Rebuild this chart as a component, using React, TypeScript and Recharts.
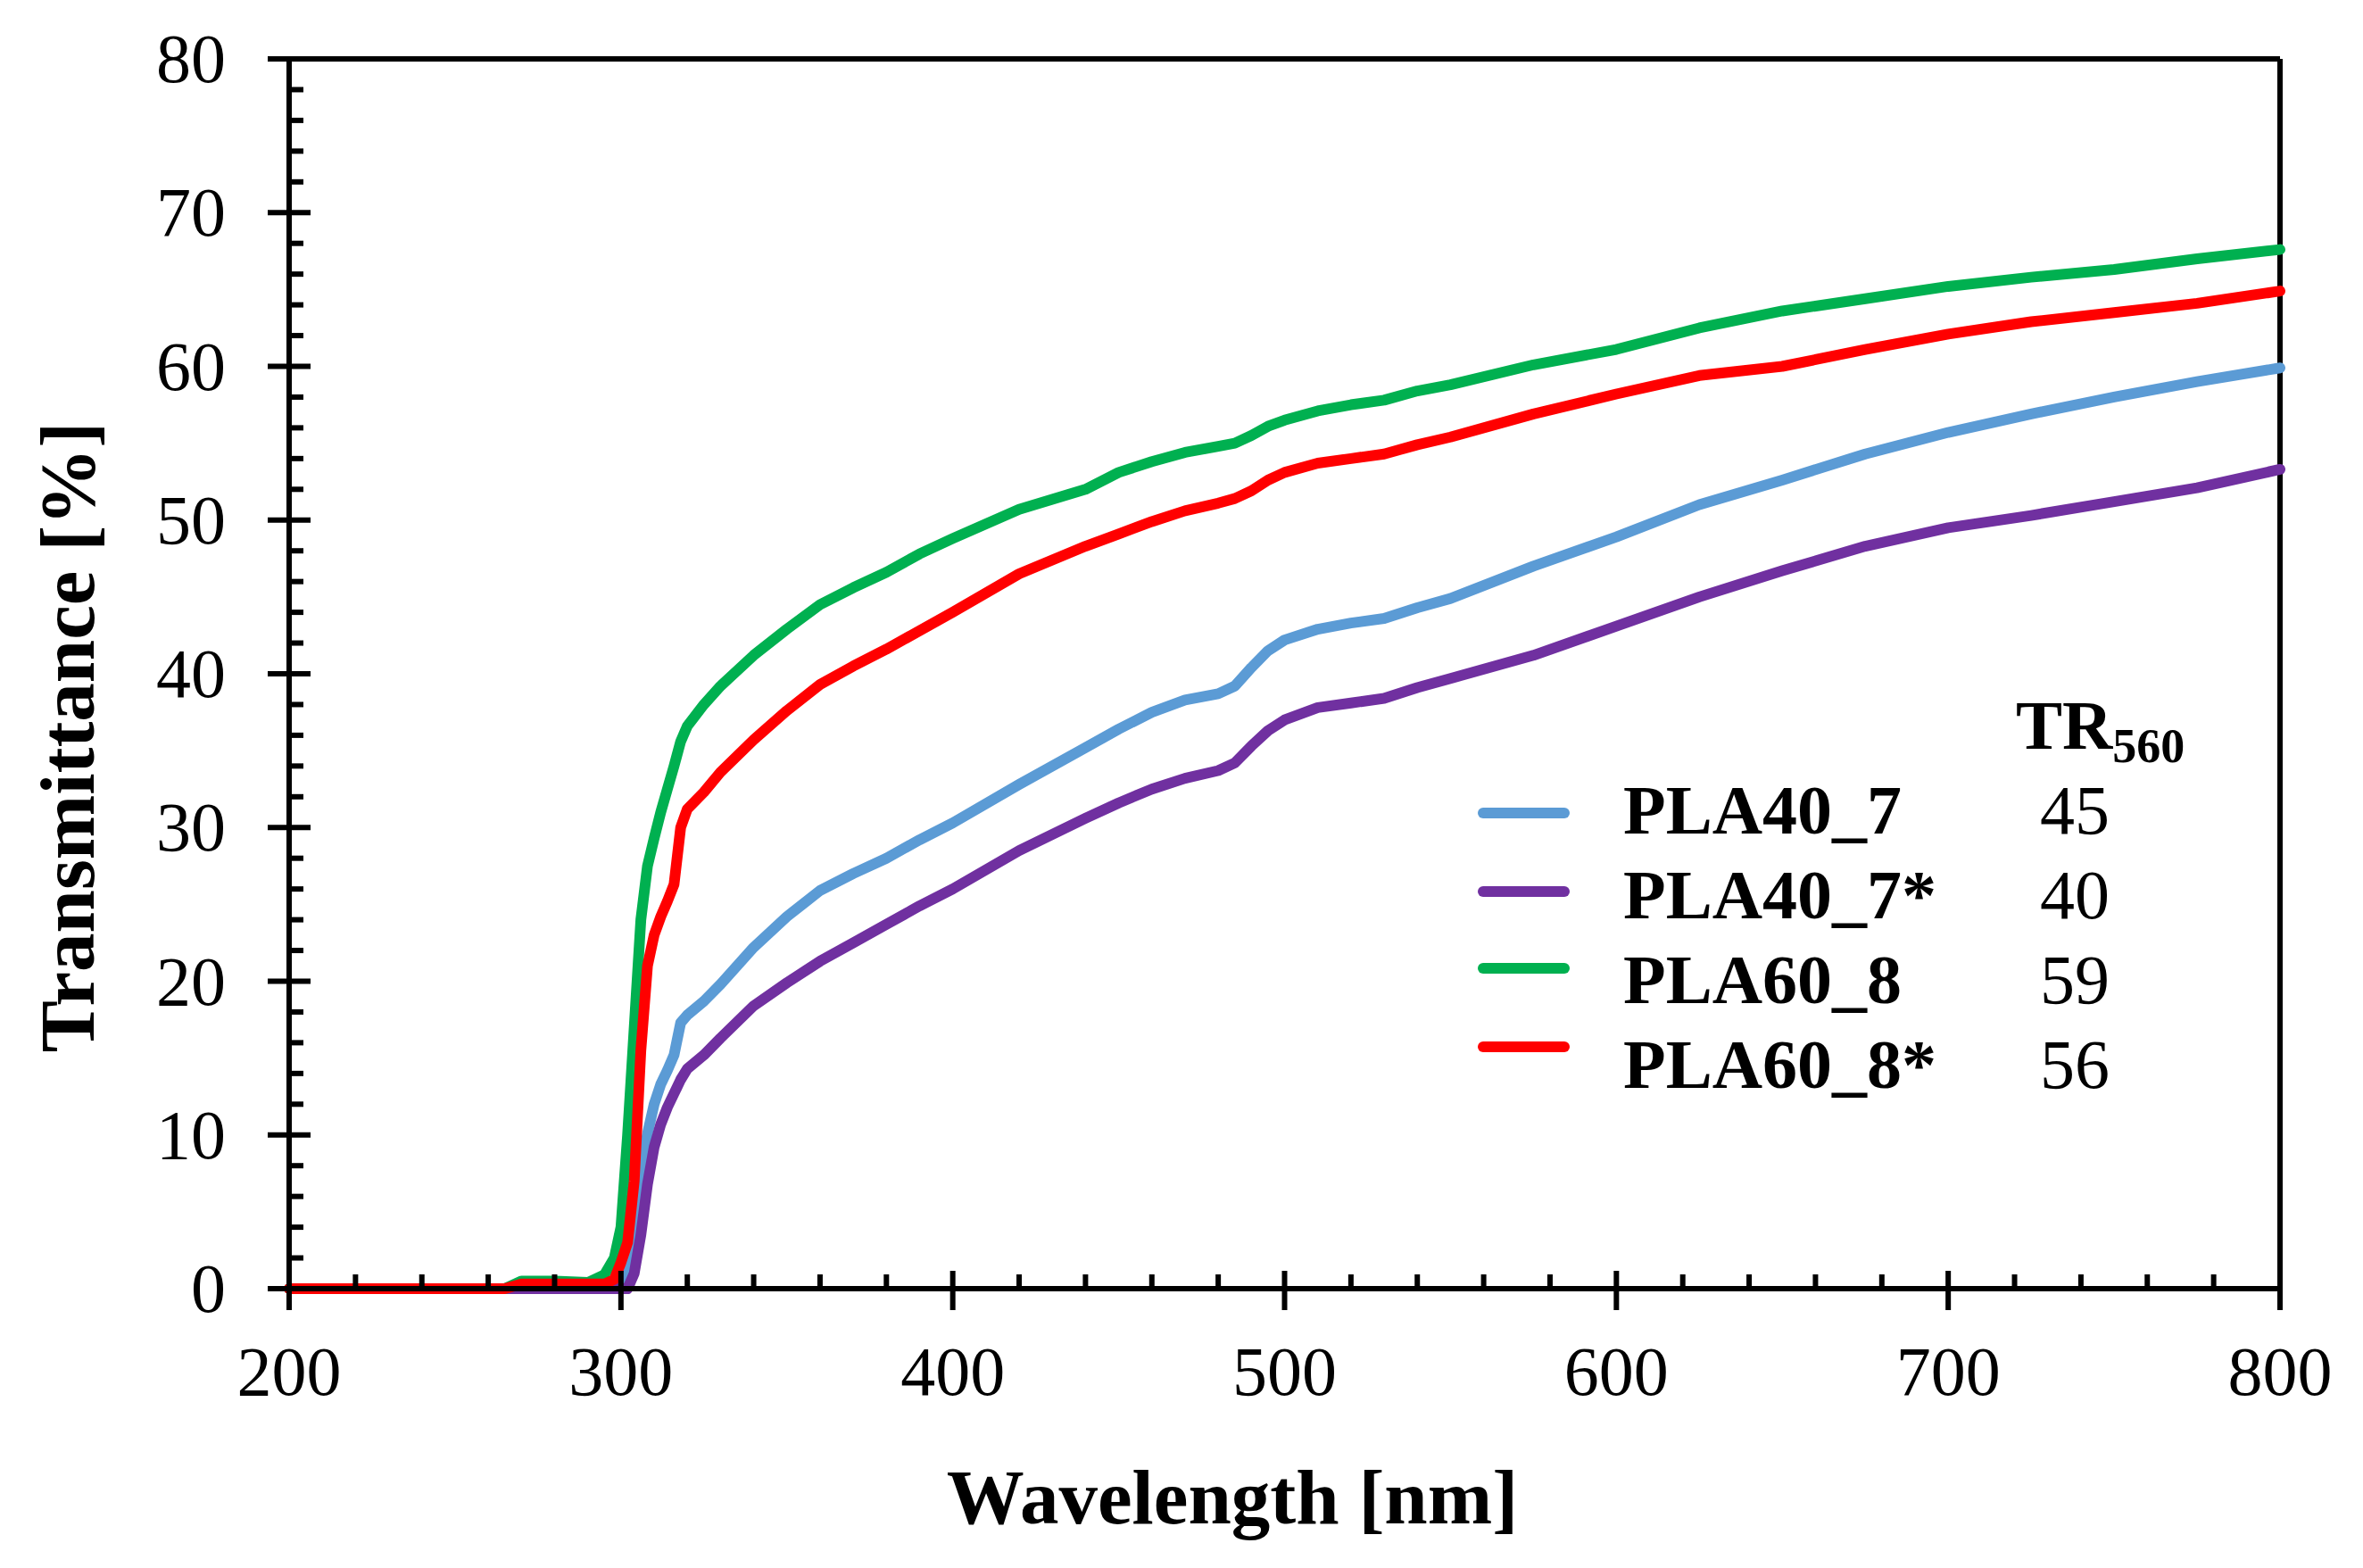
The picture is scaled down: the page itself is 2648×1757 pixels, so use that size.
import React from "react";
import { LineChart, Line, XAxis, YAxis, ReferenceLine } from "recharts";

const wavelength = [
  200, 250, 265, 270, 280, 290, 295, 298, 300, 302, 304, 306, 308, 310, 312, 314, 316, 318, 320, 325,
  330, 340, 350, 360, 370, 380, 390, 400, 420, 440, 450, 460, 470, 480, 485, 490, 495, 500, 510, 520,
  530, 540, 550, 575, 600, 625, 650, 675, 700, 725, 750, 775, 800,
];

const pla40_7 = [
  0, 0, 0, 0, 0, 0, 0, 0, 0.2, 1.2, 4.2, 7.5, 10.1, 12, 13.3, 14.2, 15.2, 17.3, 17.8, 18.7,
  19.8, 22.2, 24.2, 25.9, 27, 28, 29.2, 30.3, 32.8, 35.2, 36.4, 37.5, 38.3, 38.7, 39.2, 40.4, 41.5, 42.2, 42.9, 43.3,
  43.6, 44.3, 44.9, 47, 48.9, 51, 52.6, 54.3, 55.7, 56.9, 58, 59, 59.9,
];

const pla40_7s = [
  0, 0, 0, 0, 0, 0, 0, 0, 0, 0, 1, 3.5, 6.8, 9.2, 10.7, 11.8, 12.7, 13.6, 14.3, 15.2,
  16.3, 18.4, 19.9, 21.3, 22.5, 23.7, 24.9, 26, 28.5, 30.6, 31.6, 32.5, 33.2, 33.7, 34.2, 35.3, 36.3, 37, 37.8, 38.1,
  38.4, 39.1, 39.7, 41.2, 43.1, 45, 46.7, 48.3, 49.5, 50.3, 51.2, 52.1, 53.3,
];

const pla60_8 = [
  0, 0, 0, 0.5, 0.5, 0.4, 0.9, 2, 4, 10, 17, 24, 27.5, 29.3, 31, 32.5, 34, 35.6, 36.6, 38,
  39.2, 41.2, 42.9, 44.5, 45.6, 46.6, 47.8, 48.8, 50.7, 52, 53.1, 53.8, 54.4, 54.8, 55, 55.5, 56.1, 56.5, 57.1, 57.5,
  57.8, 58.4, 58.8, 60.1, 61.1, 62.5, 63.6, 64.4, 65.2, 65.8, 66.3, 67, 67.6,
];

const pla60_8s = [
  0, 0, 0, 0.3, 0.3, 0.3, 0.3, 0.6, 1.7, 3, 7, 15.5, 21, 23, 24.2, 25.2, 26.3, 30, 31.2, 32.3,
  33.6, 35.7, 37.6, 39.3, 40.5, 41.6, 42.8, 44, 46.5, 48.3, 49.1, 49.9, 50.6, 51.1, 51.4, 51.9, 52.6, 53.1, 53.7, 54,
  54.3, 54.9, 55.4, 56.9, 58.2, 59.4, 60, 61.1, 62.1, 62.9, 63.5, 64.1, 64.9,
];

const seriesKeys = ["s1", "s2", "s3", "s4"];
const seriesNames = ["PLA40_7", "PLA40_7*", "PLA60_8", "PLA60_8*"];
const seriesColors = ["#5B9BD5", "#7030A0", "#00B050", "#FF0000"];
const tr560 = ["45", "40", "59", "56"];

const xTicks = [200, 220, 240, 260, 280, 300, 320, 340, 360, 380, 400, 420, 440, 460, 480, 500, 520, 540, 560, 580, 600, 620, 640, 660, 680, 700, 720, 740, 760, 780, 800];
const yTicks = [0, 2, 4, 6, 8, 10, 12, 14, 16, 18, 20, 22, 24, 26, 28, 30, 32, 34, 36, 38, 40, 42, 44, 46, 48, 50, 52, 54, 56, 58, 60, 62, 64, 66, 68, 70, 72, 74, 76, 78, 80];

const data = wavelength.map((w, i) => ({
  wavelength: w,
  s1: pla40_7[i],
  s2: pla40_7s[i],
  s3: pla60_8[i],
  s4: pla60_8s[i],
}));

const FONT = '"Liberation Serif", "Times New Roman", serif';
const W = 2630;
const H = 1745;

const XTick = (props: any) => {
  const { x, y, payload } = props;
  const major = payload.value % 100 === 0;
  return (
    <g>
      <line x1={x} x2={x} y1={y - (major ? 20 : 16)} y2={major ? y + 24 : y} stroke="#000" strokeWidth={6} />
      {major && (
        <text x={x} y={y + 119} textAnchor="middle" fontSize={78} fontFamily={FONT} fill="#000">
          {payload.value}
        </text>
      )}
    </g>
  );
};

const YTick = (props: any) => {
  const { x, y, payload } = props;
  const major = payload.value % 10 === 0;
  return (
    <g>
      <line x1={major ? x - 24 : x} x2={x + (major ? 24 : 16)} y1={y} y2={y} stroke="#000" strokeWidth={6} />
      {major && (
        <text x={x - 71} y={y + 26} textAnchor="end" fontSize={78} fontFamily={FONT} fill="#000">
          {payload.value}
        </text>
      )}
    </g>
  );
};

const swatchY = [903, 991, 1077, 1165];
const textY = [926, 1021, 1116, 1211];

export default function App() {
  return (
    <div style={{ position: "relative", width: W, height: H }}>
      <LineChart width={W} height={H} data={data} margin={{ top: 58, right: 83, bottom: 149, left: 0 }}>
        <XAxis
          dataKey="wavelength"
          type="number"
          domain={[200, 800]}
          ticks={xTicks}
          interval={0}
          tickSize={0}
          tickMargin={0}
          tickLine={false}
          height={160}
          axisLine={{ stroke: "#000", strokeWidth: 6 }}
          tick={XTick}
        />
        <YAxis
          type="number"
          domain={[0, 80]}
          ticks={yTicks}
          interval={0}
          tickSize={0}
          tickMargin={0}
          tickLine={false}
          width={316}
          axisLine={{ stroke: "#000", strokeWidth: 6 }}
          tick={YTick}
        />
        <ReferenceLine y={80} stroke="#000" strokeWidth={6} />
        <ReferenceLine x={800} stroke="#000" strokeWidth={6} />
        {seriesKeys.map((k, i) => (
          <Line
            key={k}
            dataKey={k}
            type="linear"
            stroke={seriesColors[i]}
            strokeWidth={12}
            strokeLinecap="round"
            strokeLinejoin="round"
            dot={false}
            activeDot={false}
            isAnimationActive={false}
          />
        ))}
      </LineChart>
      <svg width={W} height={H} style={{ position: "absolute", left: 0, top: 0, pointerEvents: "none" }}>
        <text x={1373} y={1699} textAnchor="middle" fontSize={87} fontWeight="bold" fontFamily={FONT} fill="#000">
          Wavelength [nm]
        </text>
        <text
          x={97}
          y={818}
          transform="rotate(-90 97 818)"
          textAnchor="middle"
          fontSize={87}
          fontWeight="bold"
          fontFamily={FONT}
          fill="#000"
        >
          Transmittance [%]
        </text>
        <text x={2251} y={831} fontSize={78} fontWeight="bold" fontFamily={FONT} fill="#000">
          TR
          <tspan fontSize={54} dy={15}>560</tspan>
        </text>
        {seriesNames.map((name, i) => (
          <g key={name}>
            <line x1={1654} x2={1745} y1={swatchY[i]} y2={swatchY[i]} stroke={seriesColors[i]} strokeWidth={12} strokeLinecap="round" />
            <text x={1811} y={textY[i]} fontSize={78} fontWeight="bold" fontFamily={FONT} fill="#000">
              {name}
            </text>
            <text x={2278} y={textY[i]} fontSize={78} fontFamily={FONT} fill="#000">
              {tr560[i]}
            </text>
          </g>
        ))}
      </svg>
    </div>
  );
}
